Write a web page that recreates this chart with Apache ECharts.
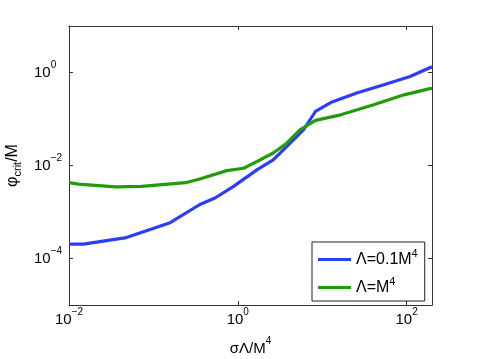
<!DOCTYPE html>
<html>
<head>
<meta charset="utf-8">
<script src="https://cdn.jsdelivr.net/npm/echarts@6/dist/echarts.min.js"></script>
<style>
  html, body { margin: 0; padding: 0; background: #fff; }
  #main { width: 477px; height: 359px; }
</style>
</head>
<body>
<div id="main"></div>
<script>
// values (log-log axes)
const xSmall = [0.01, 0.0148, 0.0479, 0.158, 0.355, 0.537, 0.891, 1.70, 2.63, 4.17, 6.03, 8.32, 12.6, 25.7, 53.7, 110, 200];
const ySmall = [2.04e-4, 2.04e-4, 2.82e-4, 5.89e-4, 1.45e-3, 2.0e-3, 3.55e-3, 8.13e-3, 0.0132, 0.0302, 0.0589, 0.145, 0.226, 0.363, 0.543, 0.820, 1.33];
const xBig = [0.01, 0.0129, 0.0355, 0.0724, 0.240, 0.355, 0.741, 1.17, 1.70, 2.63, 3.80, 5.50, 8.32, 16.6, 40.7, 93.3, 200];
const yBig = [4.27e-3, 3.98e-3, 3.47e-3, 3.55e-3, 4.27e-3, 5.13e-3, 7.76e-3, 8.71e-3, 0.0123, 0.0186, 0.0302, 0.0589, 0.0933, 0.123, 0.202, 0.331, 0.462];
const xTicks = [0.01, 1, 100];
const yTicks = [1e-4, 1e-2, 1];
const seriesNames = ['Λ=0.1M⁴', 'Λ=M⁴'];

const font = "'Liberation Sans', Arial, Helvetica, sans-serif";
const axisCol = '#333';

const zip = (xs, ys) => xs.map((x, i) => [x, ys[i]]);

// 10^n with a raised exponent
const powLabel = (v) => {
  const e = Math.round(Math.log10(v));
  return '{b|10}{e|' + (e < 0 ? '\u2212' + (-e) : e) + '}';
};
const powRich = {
  b: { fontSize: 15, fontFamily: font, color: '#000', lineHeight: 15 },
  e: { fontSize: 10, fontFamily: font, color: '#000', lineHeight: 10, padding: [0, 0, 14, 0] }
};

const chart = echarts.init(document.getElementById('main'));

const xBase = {
  type: 'log', logBase: 10, min: 0.01, max: 200,
  axisLine: { show: true, lineStyle: { color: axisCol, width: 1 } },
  splitLine: { show: false },
  minorTick: { show: false }
};
const yBase = {
  type: 'log', logBase: 10, min: 1e-5, max: 10,
  axisLine: { show: true, lineStyle: { color: axisCol, width: 1 } },
  splitLine: { show: false },
  minorTick: { show: false }
};

chart.setOption({
  backgroundColor: '#fff',
  animation: false,
  grid: { left: 69, right: 45, top: 26, bottom: 54, containLabel: false, outerBoundsMode: 'none' },
  legend: {
    left: 312, top: 242,
    orient: 'vertical',
    icon: 'rect', itemWidth: 33, itemHeight: 3, itemGap: 5,
    padding: [6, 7, 2, 6],
    borderColor: '#222', borderWidth: 1, backgroundColor: '#fff',
    formatter: (name) => name === seriesNames[0]
      ? '{t|Λ=0.1M}{e|4}' : '{t|Λ=M}{e|4}',
    textStyle: {
      rich: {
        t: { fontSize: 16, fontFamily: font, color: '#000', lineHeight: 16 },
        e: { fontSize: 11, fontFamily: font, color: '#000', lineHeight: 11, padding: [0, 0, 12, 0] }
      }
    }
  },
  xAxis: [
    Object.assign({}, xBase, {
      position: 'bottom',
      name: '{a|σΛ/M}{e|4}',
      nameLocation: 'middle', nameGap: 31,
      nameTextStyle: { rich: {
        a: { fontSize: 15, fontFamily: font, color: '#000', lineHeight: 15 },
        e: { fontSize: 10, fontFamily: font, color: '#000', lineHeight: 10, padding: [0, 0, 14, 0] }
      } },
      axisTick: { show: true, inside: true, length: 4, lineStyle: { color: axisCol }, customValues: xTicks },
      axisLabel: { show: true, margin: 7, formatter: powLabel, rich: powRich, customValues: xTicks }
    }),
    Object.assign({}, xBase, {
      position: 'top',
      axisTick: { show: true, inside: true, length: 4, lineStyle: { color: axisCol }, customValues: xTicks },
      axisLabel: { show: false }
    })
  ],
  yAxis: [
    Object.assign({}, yBase, {
      position: 'left',
      name: '{p|φ}{s|crit}{p|/M}',
      nameLocation: 'middle', nameGap: 45, nameRotate: 90,
      nameTextStyle: { rich: {
        p: { fontSize: 16, fontFamily: font, color: '#000', lineHeight: 16 },
        s: { fontSize: 11, fontFamily: font, color: '#000', lineHeight: 11, padding: [10, 0, 0, 0] }
      } },
      axisTick: { show: true, inside: true, length: 4, lineStyle: { color: axisCol }, customValues: yTicks },
      axisLabel: { show: true, margin: 35, align: 'left', formatter: powLabel, rich: powRich, customValues: yTicks }
    }),
    Object.assign({}, yBase, {
      position: 'right',
      axisTick: { show: true, inside: true, length: 4, lineStyle: { color: axisCol }, customValues: yTicks },
      axisLabel: { show: false }
    })
  ],
  series: [
    {
      name: seriesNames[0], type: 'line', xAxisIndex: 0, yAxisIndex: 0,
      data: zip(xSmall, ySmall), showSymbol: false, symbol: 'none',
      lineStyle: { color: '#2a3df7', width: 3.2 }, itemStyle: { color: '#2a3df7' }
    },
    {
      name: seriesNames[1], type: 'line', xAxisIndex: 0, yAxisIndex: 0,
      data: zip(xBig, yBig), showSymbol: false, symbol: 'none',
      lineStyle: { color: '#1f9c08', width: 3.2 }, itemStyle: { color: '#1f9c08' }
    }
  ]
});
</script>
</body>
</html>
